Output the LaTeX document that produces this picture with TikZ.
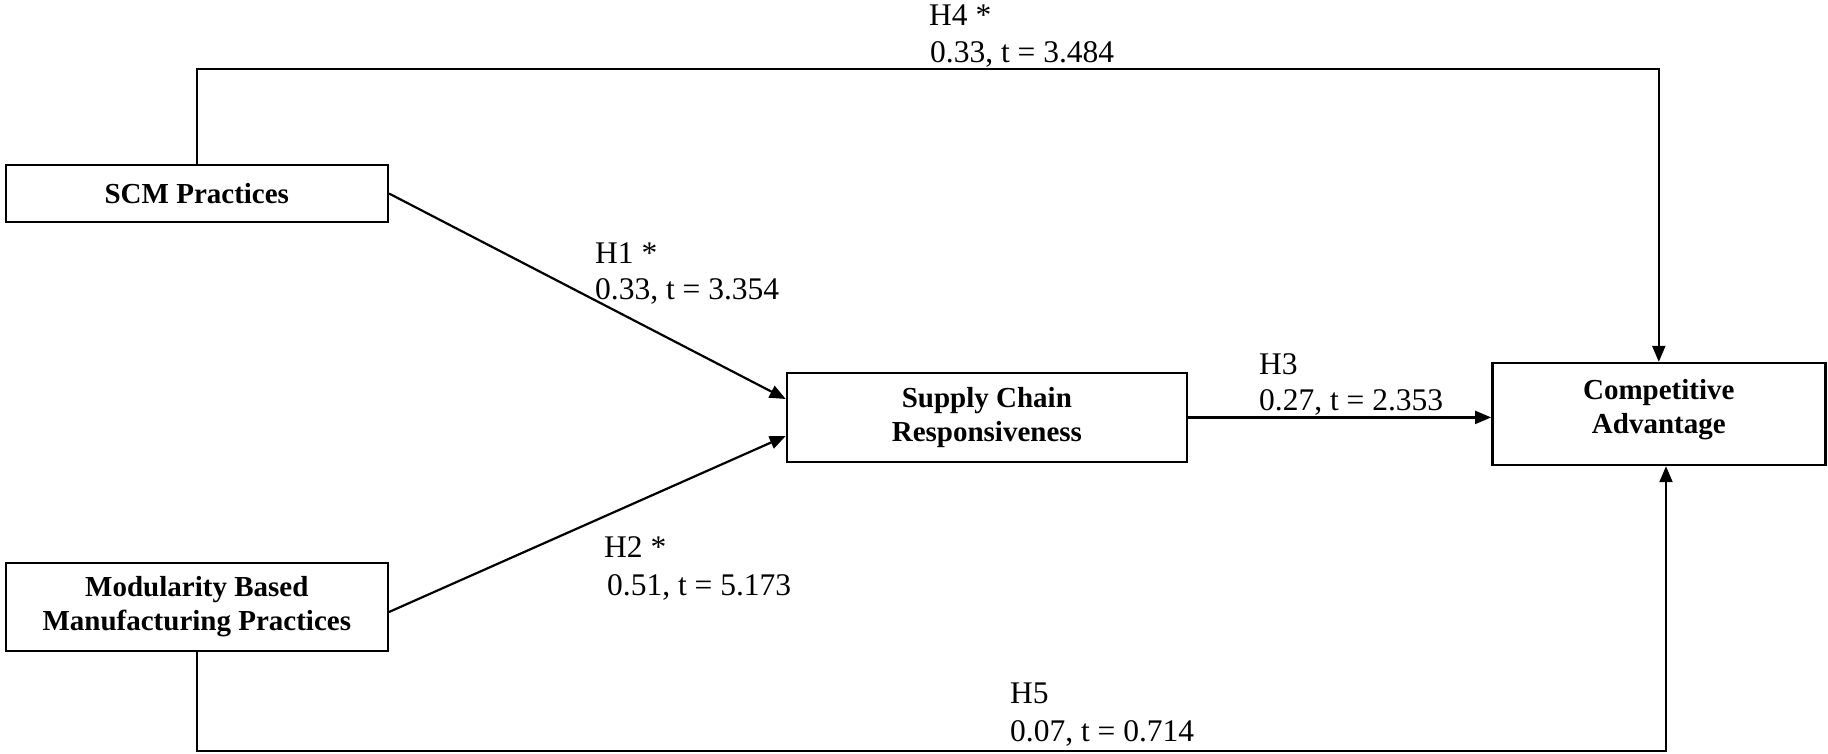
\documentclass[tikz,border=0pt]{standalone}
\usepackage{fontspec}
\setmainfont{Liberation Serif}
\usetikzlibrary{arrows.meta}
\begin{document}
\begin{tikzpicture}[x=1pt,y=-1pt,
  box/.style={draw=black, line width=2.4pt, inner sep=0pt, align=center,
    font=\bfseries\fontsize{29}{34}\selectfont},
  lbl/.style={anchor=base west, inner sep=0pt, font=\fontsize{31.5}{37}\selectfont},
  conn/.style={line width=2.2pt},
  arr/.style={conn, -{Triangle[length=16pt,width=13pt]}}]
\useasboundingbox (0,0) rectangle (1828,754);
\fill[white] (0,0) rectangle (1828,754);

% boxes
\node[box, minimum width=382pt, minimum height=57pt] (scm) at (196.8,193.5) {SCM Practices};
\node[box, minimum width=382pt, minimum height=88pt] (mod) at (196.8,607) {Modularity Based\\Manufacturing Practices};
\node[box, minimum width=400pt, minimum height=89pt] (sc) at (986.9,417.4) {Supply Chain\\Responsiveness};
\node[box, minimum width=333pt, minimum height=102pt] (ca) at (1658.8,414) {};
\node[align=center, inner sep=0pt, font=\bfseries\fontsize{29}{34}\selectfont] (catext) at ([yshift=4pt]ca.center) {Competitive\\Advantage};

% corner coordinates
\coordinate (h4r) at (1658.8,69);
\coordinate (h5r) at (1666,751);

% connectors
\draw[arr] (scm.north) |- (h4r) -- (ca.north);
\draw[arr] (scm.east) -- ([yshift=18.4pt]sc.west);
\draw[arr] ([yshift=-5pt]mod.east) -- ([yshift=-18.6pt]sc.west);
\draw[arr] (sc.east) -- (sc.east -| ca.west);
\draw[arr] (mod.south) |- (h5r) -- (h5r |- ca.south);

% labels
\node[lbl] (h4a) at (929,26) {H4 *};
\node[lbl] (h4b) at (930,63) {0.33, t = 3.484};
\node[lbl] (h1a) at (595,263) {H1 *};
\node[lbl] (h1b) at (595,299) {0.33, t = 3.354};
\node[lbl] (h2a) at (604,557) {H2 *};
\node[lbl] (h2b) at (607,595) {0.51, t = 5.173};
\node[lbl] (h3a) at (1259,374) {H3};
\node[lbl] (h3b) at (1259,410) {0.27, t = 2.353};
\node[lbl] (h5a) at (1010,703) {H5};
\node[lbl] (h5b) at (1010,741) {0.07, t = 0.714};
\end{tikzpicture}
\end{document}
